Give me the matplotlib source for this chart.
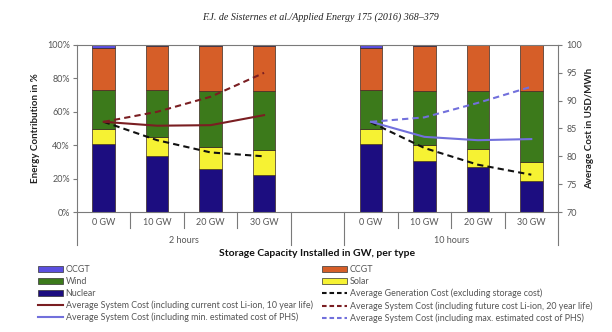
import matplotlib
matplotlib.use("Agg")
import matplotlib.pyplot as plt
from matplotlib.patches import Patch
from matplotlib.lines import Line2D
import numpy as np

# Storage scenarios: two durations, four installed capacities each
durations = ["2 hours", "10 hours"]
capacities = ["0 GW", "10 GW", "20 GW", "30 GW"]

# Energy contribution shares (%) per bar: 2 h group then 10 h group
nuclear = [40.8, 33.6, 25.8, 22.0, 40.8, 30.6, 27.2, 18.3]
solar = [8.9, 11.5, 13.4, 15.0, 8.9, 9.6, 10.6, 11.7]
wind = [23.3, 27.9, 33.4, 35.6, 23.3, 32.2, 34.6, 42.4]
ccgt = [25.4, 26.2, 26.6, 26.6, 25.4, 27.2, 27.4, 27.4]
ocgt = [1.6, 0.8, 0.8, 0.8, 1.6, 0.4, 0.2, 0.2]

# Average costs (USD/MWh)
gen_cost_2h = [86.2, 82.9, 80.7, 80.0]
liion_current_2h = [86.2, 85.5, 85.6, 87.4]
liion_future_2h = [86.2, 88.0, 90.7, 95.0]
gen_cost_10h = [86.1, 81.5, 78.5, 76.7]
phs_min_10h = [86.2, 83.5, 82.9, 83.1]
phs_max_10h = [86.2, 87.0, 89.6, 92.5]

c_ocgt = "#5b4fe0"
c_ccgt = "#d65e28"
c_wind = "#3c7a1b"
c_solar = "#f6f233"
c_nuc = "#1c0d80"
c_red = "#7a1e22"
c_blue = "#7270dc"
c_grey = "#7a7a7a"
c_text = "#555555"

fam = ["Lato", "DejaVu Sans"]
plt.rcParams["font.family"] = fam

fig = plt.figure(figsize=(6.12, 3.32), dpi=100)
ax = fig.add_axes([77 / 612, 1 - 212 / 332, (558 - 77) / 612, (212 - 45) / 332])

x_pos = np.array([0, 1, 2, 3, 5, 6, 7, 8])
width = 0.42
edge = dict(edgecolor="#3b2a22", linewidth=0.5)
bottom = np.zeros(len(x_pos))
for vals, col in [(nuclear, c_nuc), (solar, c_solar), (wind, c_wind),
                  (ccgt, c_ccgt), (ocgt, c_ocgt)]:
    ax.bar(x_pos, vals, width, bottom=bottom, color=col, **edge, zorder=2)
    bottom += np.array(vals)

ax.set_xlim(-0.5, 8.5)
ax.set_ylim(0, 100)
ax.set_yticks(range(0, 101, 20))
ax.set_yticklabels([f"{v}%" for v in range(0, 101, 20)], fontsize=6.5, color=c_text)
ax.set_xticks([])
for s in ax.spines.values():
    s.set_color(c_grey)
    s.set_linewidth(0.8)
ax.tick_params(axis="y", direction="out", length=3, width=0.8, color=c_grey, pad=2)
ax.set_ylabel("Energy Contribution in %", fontsize=7, fontweight="bold",
              color="#222222", labelpad=5)

# Category axis: capacity labels, separators and group labels
trans = ax.get_xaxis_transform()
for xp, lab in zip(x_pos, capacities * 2):
    ax.text(xp, -0.065, lab, transform=trans, ha="center", va="center",
            fontsize=6.5, color=c_text)
for xb in [0.5, 1.5, 2.5, 5.5, 6.5, 7.5]:
    ax.plot([xb, xb], [0, -0.096], transform=trans, color=c_grey, lw=0.8, clip_on=False)
for xb in [-0.5, 3.5, 4.5, 8.5]:
    ax.plot([xb, xb], [0, -0.2], transform=trans, color=c_grey, lw=0.8, clip_on=False)
ax.text(1.5, -0.172, durations[0], transform=trans, ha="center", va="center",
        fontsize=6.5, color=c_text)
ax.text(6.5, -0.172, durations[1], transform=trans, ha="center", va="center",
        fontsize=6.5, color=c_text)
fig.text(317 / 612, 1 - 254 / 332, "Storage Capacity Installed in GW, per type",
         ha="center", va="center", fontsize=7.5, fontweight="bold", color="#111111")

# Cost axis with line series
ax2 = ax.twinx()
ax2.set_ylim(70, 100)
ax2.set_yticks(range(70, 101, 5))
ax2.tick_params(axis="y", direction="out", length=3, width=0.8, color=c_grey,
                labelsize=6.5, labelcolor=c_text, pad=3)
for s in ax2.spines.values():
    s.set_visible(False)
ax2.set_ylabel("Average Cost in USD/MWh", fontsize=7, fontweight="bold",
               color="#222222", labelpad=2)

dash = (0, (3, 2))
lw = 1.5
x2 = x_pos[:4]
x10 = x_pos[4:]
ax2.plot(x2, gen_cost_2h, color="#111111", lw=lw, ls=dash, zorder=3)
ax2.plot(x2, liion_current_2h, color=c_red, lw=lw, zorder=3)
ax2.plot(x2, liion_future_2h, color=c_red, lw=lw, ls=dash, zorder=3)
ax2.plot(x10, gen_cost_10h, color="#111111", lw=lw, ls=dash, zorder=3)
ax2.plot(x10, phs_min_10h, color=c_blue, lw=lw, zorder=3)
ax2.plot(x10, phs_max_10h, color=c_blue, lw=lw, ls=dash, zorder=3)

fig.text(320 / 612, 1 - 17 / 332, "F.J. de Sisternes et al./Applied Energy 175 (2016) 368\u2013379",
         ha="center", va="center", fontsize=7.2, style="italic",
         family=["Liberation Serif", "DejaVu Serif"], color="#222222")

# Legend in two columns
pe = dict(edgecolor="#333333", linewidth=0.5)
left_items = [
    (Patch(facecolor=c_ocgt, **pe), "OCGT"),
    (Patch(facecolor=c_wind, **pe), "Wind"),
    (Patch(facecolor=c_nuc, **pe), "Nuclear"),
    (Line2D([], [], color=c_red, lw=1.5), "Average System Cost (including current cost Li-ion, 10 year life)"),
    (Line2D([], [], color=c_blue, lw=1.5), "Average System Cost (including min. estimated cost of PHS)"),
]
right_items = [
    (Patch(facecolor=c_ccgt, **pe), "CCGT"),
    (Patch(facecolor=c_solar, **pe), "Solar"),
    (Line2D([], [], color="#111111", lw=1.5, ls=(0, (2.2, 1.4))), "Average Generation Cost (excluding storage cost)"),
    (Line2D([], [], color=c_red, lw=1.5, ls=(0, (2.2, 1.4))), "Average System Cost (including future cost Li-ion, 20 year life)"),
    (Line2D([], [], color=c_blue, lw=1.5, ls=(0, (2.2, 1.4))), "Average System Cost (including max. estimated cost of PHS)"),
]
common = dict(loc="upper left", frameon=False, fontsize=6.4, handlelength=2.8,
              handleheight=0.65, handletextpad=0.3, labelspacing=0.32,
              borderaxespad=0, borderpad=0, labelcolor=c_text)
leg1 = fig.legend([h for h, _ in left_items], [t for _, t in left_items],
                  bbox_to_anchor=(38 / 612, 1 - 265 / 332), **common)
leg2 = fig.legend([h for h, _ in right_items], [t for _, t in right_items],
                  bbox_to_anchor=(322 / 612, 1 - 265 / 332), **common)

fig.savefig("out.png", dpi=100)
